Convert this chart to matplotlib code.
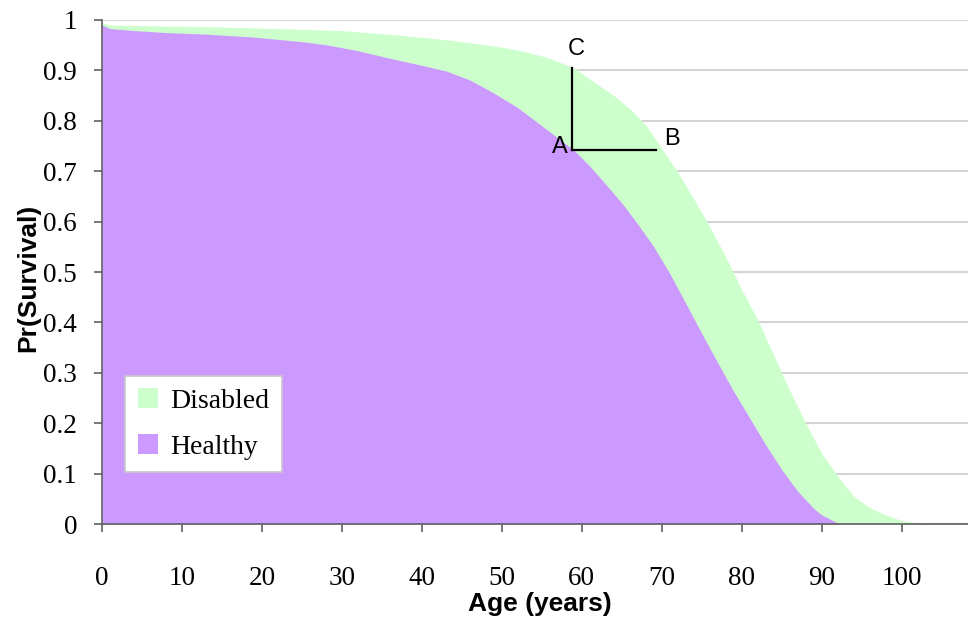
import matplotlib
matplotlib.use('Agg')
import matplotlib.pyplot as plt

# survival curves
healthy_age = [0, 1, 4, 8, 13, 19, 25, 28, 32, 36, 40, 43, 46, 49, 52, 55, 57, 59, 61, 63, 65, 67, 69,
               71, 73, 75, 77, 79, 81, 83, 85, 87, 89, 90, 92, 93]
healthy_pr = [0.99, 0.983, 0.979, 0.975, 0.972, 0.966, 0.957, 0.951, 0.939, 0.924, 0.91, 0.899, 0.881,
              0.855, 0.826, 0.79, 0.766, 0.742, 0.71, 0.674, 0.637, 0.595, 0.55, 0.497, 0.438, 0.378,
              0.32, 0.263, 0.21, 0.157, 0.108, 0.065, 0.031, 0.018, 0.002, 0.0]

disabled_age = [0, 1, 12, 20, 30, 37, 43, 47, 50, 53, 56, 59, 62, 64, 66, 68, 70, 72, 74, 76, 78, 80,
                82, 84, 86, 88, 90, 92, 94, 96, 98, 100, 102, 104]
disabled_pr = [0.995, 0.99, 0.987, 0.984, 0.979, 0.970, 0.961, 0.953, 0.946, 0.937, 0.924, 0.905, 0.872,
               0.85, 0.824, 0.792, 0.745, 0.698, 0.645, 0.59, 0.53, 0.465, 0.405, 0.335, 0.265, 0.2,
               0.14, 0.095, 0.055, 0.033, 0.018, 0.007, 0.002, 0.0]

labels = ['Disabled', 'Healthy']
colors = ['#CCFFCC', '#CC99FF']

serif = 'Liberation Serif'
sans = 'Liberation Sans'

fig = plt.figure(figsize=(9.68, 6.17), dpi=100)
ax = fig.add_axes([0.1054, 0.1507, 0.8946, 0.8169])

ax.fill_between(disabled_age, disabled_pr, 0, color=colors[0], lw=0, label=labels[0], zorder=2)
ax.fill_between(healthy_age, healthy_pr, 0, color=colors[1], lw=0, label=labels[1], zorder=3)

ax.set_xlim(0, 108.3)
ax.set_ylim(0, 1)
ax.set_xticks(range(0, 101, 10))
ax.set_yticks([i / 10 for i in range(11)])
ax.set_yticklabels(['0', '0.1', '0.2', '0.3', '0.4', '0.5', '0.6', '0.7', '0.8', '0.9', '1'])
ax.grid(axis='y', color='#d4d4d4', lw=1.5, zorder=1)
ax.set_axisbelow(True)

for s in ['top', 'right']:
    ax.spines[s].set_visible(False)
for s in ['left', 'bottom']:
    ax.spines[s].set_color('#606060')
    ax.spines[s].set_linewidth(1.2)
    ax.spines[s].set_zorder(5)
ax.tick_params(direction='out', length=6, width=1.2, color='#606060', labelsize=19.5)
ax.tick_params(axis='x', pad=24)
ax.tick_params(axis='y', pad=12)
for t in ax.get_xticklabels() + ax.get_yticklabels():
    t.set_family(serif)

fig.text(540 / 968, (617 - 604) / 617, 'Age (years)', family=sans, fontweight='bold', fontsize=19,
         ha='center', va='center')
fig.text(28 / 968, (617 - 278) / 617, 'Pr(Survival)', family=sans, fontweight='bold', fontsize=19,
         ha='center', va='center', rotation=90)

# A-B-C annotation
ax.plot([58.8, 58.8], [0.742, 0.905], color='black', lw=1.6, zorder=6)
ax.plot([58.8, 69.3], [0.742, 0.742], color='black', lw=1.6, zorder=6)
ax.text(58.2, 0.748, 'A', family=sans, fontsize=17, ha='right', va='center', zorder=6)
ax.text(70.3, 0.764, 'B', family=sans, fontsize=17, ha='left', va='center', zorder=6)
ax.text(59.3, 0.942, 'C', family=sans, fontsize=17, ha='center', va='center', zorder=6)

leg = ax.legend(loc='lower left', bbox_to_anchor=(0.0266, 0.103), prop={'family': serif, 'size': 20},
                frameon=True, fancybox=False, edgecolor='#c8c8c8', framealpha=1,
                handlelength=0.72, handleheight=0.72, handletextpad=0.45, labelspacing=0.72,
                borderpad=0.45, borderaxespad=0)
leg.get_frame().set_linewidth(1.2)
leg.set_zorder(7)

fig.savefig('out.png', dpi=100)
